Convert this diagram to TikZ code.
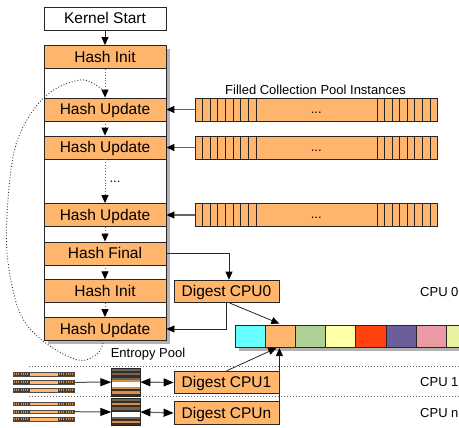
\documentclass[tikz,border=0pt]{standalone}
\usepackage{fontspec}
\setmainfont{Liberation Sans}
\usetikzlibrary{arrows.meta,calc}
\definecolor{orng}{HTML}{FFB66C}
\definecolor{ccyan}{HTML}{66FFFF}
\definecolor{cgrn}{HTML}{AFD095}
\definecolor{cyel}{HTML}{FFFFA6}
\definecolor{cred}{HTML}{FF420E}
\definecolor{cpur}{HTML}{6B5E9B}
\definecolor{cpink}{HTML}{EC9BA4}
\definecolor{cylg}{HTML}{E8F2A1}
\definecolor{stA}{HTML}{6E665E}
\definecolor{stB}{HTML}{3A2E24}
\definecolor{stO}{HTML}{D98F45}
\definecolor{brn}{HTML}{4A3A2C}
\begin{document}
\begin{tikzpicture}[x=1pt,y=-1pt,
  box/.style={draw=black!85,line width=0.8pt,fill=orng,minimum width=122pt,minimum height=23pt,inner sep=0pt,text height=11pt,text depth=0pt,font=\fontsize{15.5}{18}\selectfont},
  dbox/.style={box,minimum width=105pt,minimum height=22.5pt},
  lbl/.style={font=\fontsize{13}{15}\selectfont,inner sep=0pt},
  pool/.style={draw=black!85,line width=0.8pt,fill=orng,minimum width=242.5pt,minimum height=23pt,inner sep=0pt,text height=9.5pt,text depth=1.5pt,font=\fontsize{13}{15}\selectfont},
  cell/.style={draw=black!85,line width=0.8pt,minimum width=30.2pt,minimum height=22.7pt,inner sep=0pt},
  mini/.style={draw=black!70,line width=0.4pt,fill=orng,minimum width=61pt,minimum height=3.7pt,inner sep=0pt},
  stk/.style={draw=black!85,line width=0.8pt,minimum width=28.3pt,inner sep=0pt},
  flow/.style={draw=black!60,dotted,line width=0.9pt,-{Triangle[length=8pt,width=7pt,black]}},
  conn/.style={draw=black!85,line width=0.8pt,-{Triangle[length=8pt,width=7pt,black]}},
  parr/.style={draw=black!60,line width=1.2pt,-{Triangle[length=8pt,width=7pt,black]}},
  bigarr/.style={draw=black!70,line width=1pt,-{Triangle[length=11pt,width=8pt,black]}},
  dbl/.style={draw=black!60,line width=1.2pt,{Triangle[length=10pt,width=8pt,black]}-{Triangle[length=10pt,width=8pt,black]}},
  sep/.style={draw=black!60,dotted,line width=1pt}
]
\useasboundingbox (0,0) rectangle (459,428);

% main column
\fill[gray!60] (48,49) rectangle (170,344);
\draw[fill=white,draw=black!85,line width=0.8pt] (44,45) rectangle (166,340);

\node[box,fill=white] (ks) at (105,18.5) {Kernel Start};
\node[box] (hi1) at (105,57) {Hash Init};
\node[box] (hu1) at (105,109.5) {Hash Update};
\node[box] (hu2) at (105,147.5) {Hash Update};
\node[box] (hu3) at (105,215) {Hash Update};
\node[box] (hf) at (105,253.5) {Hash Final};
\node[box] (hi2) at (105,291.3) {Hash Init};
\node[box] (hu4) at (105,329) {Hash Update};

\draw[conn] (ks.south) -- (hi1.north);
\draw[flow] (hi1.south) -- (hu1.north);
\draw[flow] (hu1.south) -- (hu2.north);
\draw[flow] (hu2.south) -- (hu3.north);
\draw[flow] (hu3.south) -- (hf.north);
\draw[flow] (hf.south) -- (hi2.north);
\draw[flow] (hi2.south) -- (hu4.north);
\node[lbl] (dots) at (115,182) {...};

% loop back curve
\draw[dotted,line width=0.9pt,black!80] plot[smooth,tension=0.6] coordinates
  {(103,343) (97,354) (78,360) (43,341) (20,313) (8,262) (7,215) (14,152) (30,115) (52,91) (80,80) (96,85) (104,92)};

% pool instances
\node[lbl] (fcp) at (315.5,90) {Filled Collection Pool Instances};
\foreach \yy [count=\i] in {109.5,147.5,215} {
  \node[pool] (p\i) at (316.25,\yy) {...};
  \foreach \k in {1,...,8} {
    \draw[black!85,line width=0.8pt] (195+\k*7.625,\yy-11.5) -- ++(0,23);
    \draw[black!85,line width=0.8pt] (377+\k*7.56-7.56,\yy-11.5) -- ++(0,23);
  }
  \draw[parr] (p\i.west) -- (hu\i.east);
}

% digests
\node[dbox] (d0) at (226.5,291.3) {Digest CPU0};
\node[dbox] (d1) at (226.5,382.5) {Digest CPU1};
\node[dbox] (dn) at (226.5,413) {Digest CPUn};

% color bar
\begin{scope}
\clip (0,0) rectangle (459,428);
\fill[gray!60] (239,329) rectangle (490,351.5);
\foreach \cl [count=\k] in {ccyan,orng,cgrn,cyel,cred,cpur,cpink,cylg} {
  \node[cell,fill=\cl] (c\k) at (250.1+\k*30.2-30.2,336.35) {};
}
\end{scope}

\draw[conn] (hf.east) -| ($(d0.north)+(2.5,0)$);
\draw[conn] (d0.south) |- (hu4.east);
\draw[conn] ($(d0.south)+(3,0)$) -- ($(c2.north)+(-1,-1)$);
\draw[conn] (d1.north) -- ($(c2.south)+(-4,0)$);
\draw[conn] (dn.north east) -- (dn.north east |- c2.south);

\node[lbl] (ep) at (148,354) {Entropy Pool};

% separators
\draw[sep] (29,366.7) -- (459,366.7);
\draw[sep] (29,396.7) -- (459,396.7);

\node[lbl,anchor=west] (cpu0) at (420,291.7) {CPU 0};
\node[lbl,anchor=west] (cpu1) at (420,382) {CPU 1};
\node[lbl,anchor=west] (cpun) at (420,412.7) {CPU n};

% mini pools
\foreach \yy [count=\i] in {374.3,382.3,390,403.7,411.7,419.3} {
  \node[mini] (m\i) at (43.5,\yy) {};
  \fill[brn] (13,\yy-1.85) rectangle (30,\yy+1.85);
  \fill[brn] (58,\yy-1.85) rectangle (74,\yy+1.85);
  \foreach \x in {14.5,16.6,...,29} {\draw[stO,line width=0.6pt] (\x,\yy-1.2) -- (\x,\yy+1.2);}
  \foreach \x in {59.5,61.6,...,73} {\draw[stO,line width=0.6pt] (\x,\yy-1.2) -- (\x,\yy+1.2);}
  \draw[black!70,line width=0.4pt] (13,\yy-1.85) rectangle (74,\yy+1.85);
}

% stacked per-cpu pools
\foreach \cl [count=\k] in {stA,stB,stA,stB,stA,stO,white,white,stO,stB,stO,stB} {
  \fill[\cl] (111.7,368.3+\k*2.31-2.31) rectangle (140,368.3+\k*2.31);
}
\foreach \cl [count=\k] in {stA,stB,stO,stB,stA,stB,white,white,stA,stB,stO,stB} {
  \fill[\cl] (111.7,398.3+\k*2.28-2.28) rectangle (140,398.3+\k*2.28);
}
\node[stk,minimum height=27.7pt] (s1) at (125.85,382.15) {};
\node[stk,minimum height=27.4pt] (s2) at (125.85,412) {};

\draw[bigarr] (m2.east) -- (s1.west);
\draw[bigarr] (m5.east) -- (s2.west);
\draw[dbl] (s1.east) -- (d1.west);
\draw[dbl] (s2.east) -- (dn.west);
\end{tikzpicture}
\end{document}
